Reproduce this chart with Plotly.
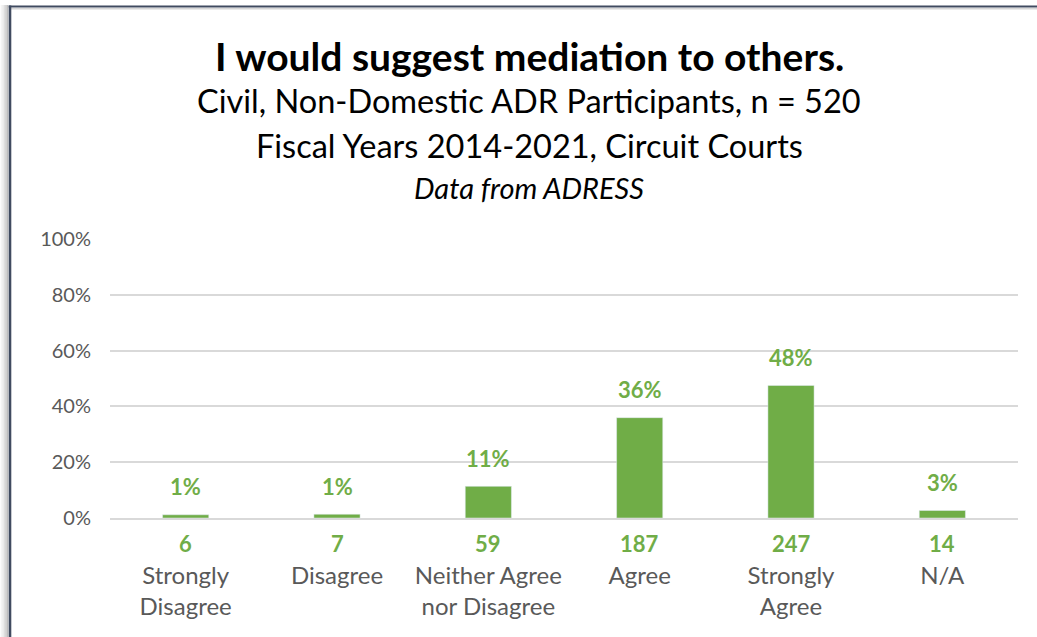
import plotly.graph_objects as go

categories = ["Strongly<br>Disagree", "Disagree", "Neither Agree<br>nor Disagree", "Agree", "Strongly<br>Agree", "N/A"]
counts = [6, 7, 59, 187, 247, 14]
n_total = 520
pct_labels = ["1%", "1%", "11%", "36%", "48%", "3%"]
shares = [c / n_total for c in counts]
y_ticks = [0, 0.2, 0.4, 0.6, 0.8, 1.0]
y_ticktext = ["0%", "20%", "40%", "60%", "80%", "100%"]

GREEN = "#70AD47"
GRAY = "#595959"
FONT = "Lato, 'Open Sans', sans-serif"

W, H = 1037, 637
# target plot area in screen pixels
SX0, SX1, SY0, SY1 = 110, 1018, 239, 518
L, R, T, B = SX0, W - SX1, SY0, H - SY1
pw, ph = SX1 - SX0, SY1 - SY0

def px(x):
    return (x - SX0) / pw

def py(y):
    return (SY1 - y) / ph

fig = go.Figure()
fig.add_trace(go.Bar(
    x=categories, y=shares, marker_color=GREEN, width=0.305,
    hoverinfo="skip",
))

annotations = []
for cat, s, lab, c in zip(categories, shares, pct_labels, counts):
    annotations.append(dict(x=cat, y=s, xref="x", yref="y", text=f"<b>{lab}</b>",
                            showarrow=False, yshift=28, yanchor="middle",
                            font=dict(color=GREEN, size=22, family=FONT)))
    annotations.append(dict(x=cat, y=0, xref="x", yref="y", text=f"<b>{c}</b>",
                            showarrow=False, yshift=-25, yanchor="middle",
                            font=dict(color=GREEN, size=22, family=FONT)))

titles = [
    ("<b>I would suggest mediation to others.</b>", 56, 39),
    ("Civil, Non-Domestic ADR Participants, n = 520", 100, 32.5),
    ("Fiscal Years 2014-2021, Circuit Courts", 145, 32.5),
    ("<i>Data from ADRESS</i>", 187, 29),
]
for t, yy, sz in titles:
    annotations.append(dict(x=px(529), y=py(yy), xref="paper", yref="paper", text=t,
                            showarrow=False, xanchor="center", yanchor="middle",
                            font=dict(color="black", size=sz, family=FONT)))

shapes = []
# soft shadow left of frame
for xx, col in [(1.5, "#F4F4F4"), (3.0, "#EBEBEB"), (4.5, "#DEDEDE"), (6.0, "#CFCFCF"), (7.5, "#BDBDBD")]:
    shapes.append(dict(type="line", xref="paper", yref="paper", x0=px(xx), x1=px(xx),
                       y0=py(5), y1=py(650), line=dict(color=col, width=1.6)))
# light line under top edge
shapes.append(dict(type="line", xref="paper", yref="paper", x0=px(11), x1=px(1050),
                   y0=py(8.8), y1=py(8.8), line=dict(color="#D6D6D6", width=1.5)))
# frame
shapes.append(dict(type="line", xref="paper", yref="paper", x0=px(10), x1=px(10),
                   y0=py(5.5), y1=py(650), line=dict(color="#404B60", width=2.6)))
shapes.append(dict(type="line", xref="paper", yref="paper", x0=px(8.8), x1=px(1050),
                   y0=py(6.5), y1=py(6.5), line=dict(color="#404B60", width=2.2)))

fig.update_layout(
    width=W, height=H,
    margin=dict(l=L, r=R, t=T, b=B, autoexpand=False),
    paper_bgcolor="white", plot_bgcolor="white",
    showlegend=False,
    font=dict(family=FONT, color=GRAY),
    annotations=annotations, shapes=shapes,
)
fig.update_xaxes(
    showgrid=False, showline=True, linecolor="#D9D9D9", linewidth=2,
    ticks="", tickfont=dict(size=24, color=GRAY, family=FONT),
    ticklabelstandoff=35, fixedrange=True,
)
fig.update_yaxes(
    range=[0, 1], tickvals=y_ticks, ticktext=y_ticktext,
    showgrid=True, gridcolor="#D9D9D9", gridwidth=2, zeroline=False,
    tickfont=dict(size=20, color=GRAY, family=FONT), ticklabelstandoff=18,
    fixedrange=True,
)

fig.write_html("out.html", config={"displayModeBar": False},
               post_script="document.body.style.margin='0';")
